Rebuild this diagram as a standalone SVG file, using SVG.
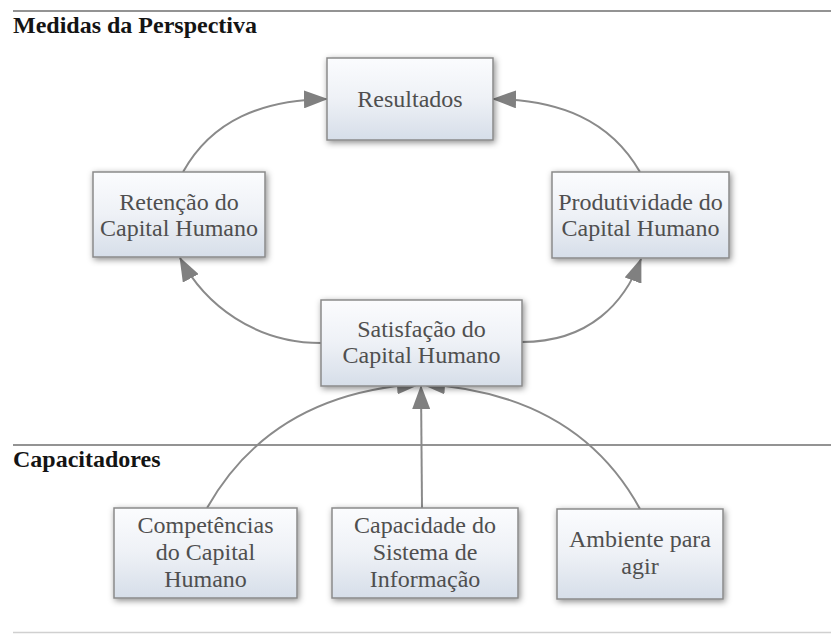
<svg xmlns="http://www.w3.org/2000/svg" width="831" height="635" viewBox="0 0 831 635">
<defs>
<linearGradient id="g" x1="0" y1="0" x2="0" y2="1">
<stop offset="0" stop-color="#fbfcfe"/>
<stop offset="0.5" stop-color="#eef1f6"/>
<stop offset="1" stop-color="#d6dee9"/>
</linearGradient>
<filter id="sh" x="-20%" y="-20%" width="140%" height="140%">
<feDropShadow dx="1.5" dy="2" stdDeviation="3" flood-color="#000" flood-opacity="0.45"/>
</filter>
<marker id="ah" viewBox="0 0 24 18" refX="23" refY="9" markerWidth="24" markerHeight="18" markerUnits="userSpaceOnUse" orient="auto">
<path d="M0,0 L24,9 L0,18 Z" fill="#808080"/>
</marker>
</defs>
<style>
.hdr{font-weight:bold;font-size:24px;fill:#141414}
.sep{stroke:#939393;stroke-width:2}
.box{fill:url(#g);stroke:#8a8a8a;stroke-width:1.5;filter:url(#sh)}
.lbl{font-size:24px;fill:#4f4f4f;text-anchor:middle}
.con{fill:none;stroke:#8a8a8a;stroke-width:2;marker-end:url(#ah)}
</style>
<rect width="831" height="635" fill="#ffffff"/>
<g font-family="Liberation Serif, DejaVu Serif, serif">
<line class="sep" x1="13" y1="11" x2="831" y2="11"/>
<text class="hdr" x="13" y="33">Medidas da Perspectiva</text>
<line class="sep" x1="13" y1="445" x2="831" y2="445"/>
<text class="hdr" x="13" y="467">Capacitadores</text>
<line x1="13" y1="632.5" x2="831" y2="632.5" stroke="#d0d0d0" stroke-width="1.5"/>
<g id="connectors">
<path class="con" d="M183,172 C212,120 262,100 327,99"/>
<path class="con" d="M640,172 C610,120 560,100 493,99"/>
<path class="con" d="M321,343 C255,343 205,305 180,258"/>
<path class="con" d="M522,342 C590,342 625,302 641,259"/>
<path class="con" d="M207,508 C250,432 320,390 420,384"/>
<path class="con" d="M640,509 C598,432 525,390 422,384"/>
<path class="con" d="M422,508 L421,386"/>
</g>
<g id="resultados">
<rect class="box" x="327" y="58" width="166" height="82"/>
<text class="lbl" x="410" y="107">Resultados</text>
</g>
<g id="retencao">
<rect class="box" x="93" y="172" width="172" height="85"/>
<text class="lbl" x="179" y="210">Retenção do</text>
<text class="lbl" x="179" y="236">Capital Humano</text>
</g>
<g id="produtividade">
<rect class="box" x="552" y="172" width="177" height="86"/>
<text class="lbl" x="640.5" y="210">Produtividade do</text>
<text class="lbl" x="640.5" y="236">Capital Humano</text>
</g>
<g id="satisfacao">
<rect class="box" x="321" y="300" width="201" height="86"/>
<text class="lbl" x="421.5" y="337">Satisfação do</text>
<text class="lbl" x="421.5" y="363">Capital Humano</text>
</g>
<g id="competencias">
<rect class="box" x="114" y="508" width="183" height="90"/>
<text class="lbl" x="205.5" y="533">Competências</text>
<text class="lbl" x="205.5" y="560">do Capital</text>
<text class="lbl" x="205.5" y="587">Humano</text>
</g>
<g id="capacidade">
<rect class="box" x="332" y="508" width="186" height="90"/>
<text class="lbl" x="425" y="533">Capacidade do</text>
<text class="lbl" x="425" y="560">Sistema de</text>
<text class="lbl" x="425" y="587">Informação</text>
</g>
<g id="ambiente">
<rect class="box" x="557" y="509" width="166" height="90"/>
<text class="lbl" x="640" y="547">Ambiente para</text>
<text class="lbl" x="640" y="574">agir</text>
</g>
</g>
</svg>
